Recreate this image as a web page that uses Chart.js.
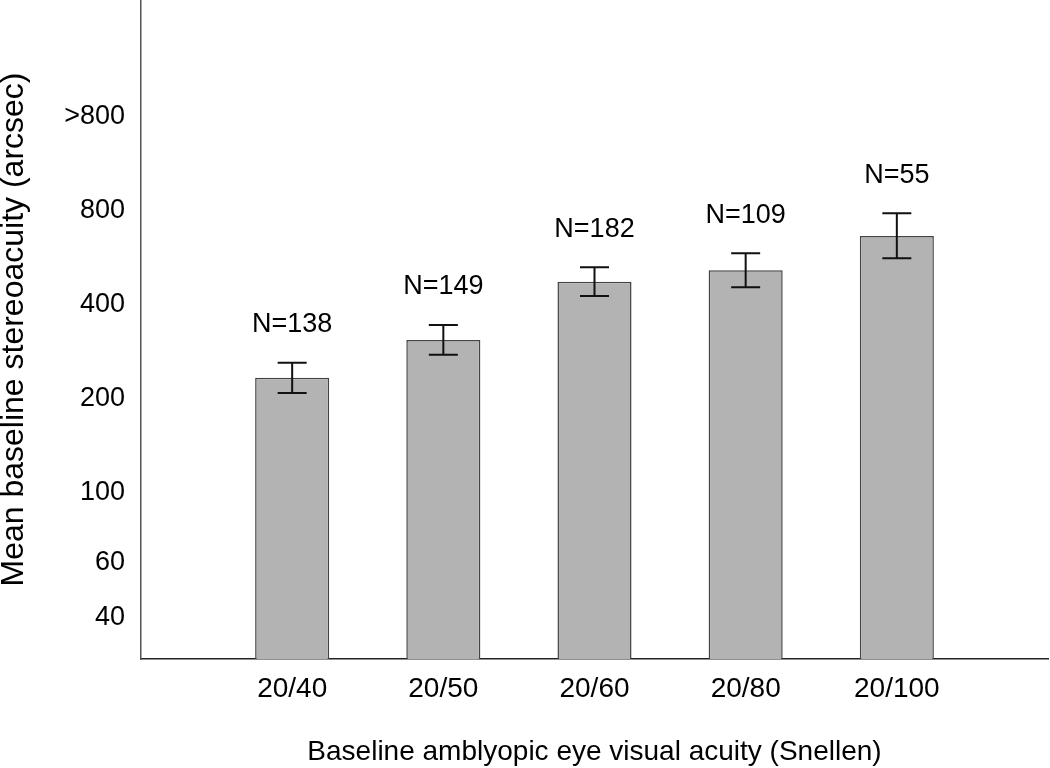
<!DOCTYPE html>
<html>
<head>
<meta charset="utf-8">
<script src="https://cdn.jsdelivr.net/npm/chart.js@4/dist/chart.umd.min.js"></script>
<style>
  body { margin: 0; background: #fff; }
  #wrap { width: 1050px; height: 768px; }
</style>
</head>
<body>
<div id="wrap"><canvas id="stereoChart" width="1050" height="768"></canvas></div>
<script>
const acuity = ["20/40", "20/50", "20/60", "20/80", "20/100"];
const meanArcsec = [234, 309, 475, 517, 665];
const errLow = [209, 277, 427, 456, 564];
const errHigh = [261, 345, 528, 586, 787];
const nCounts = [138, 149, 182, 109, 55];
const yTickValues = [40, 60, 100, 200, 400, 800, 1600];

const FONT = "'Liberation Sans', Arial, Helvetica, sans-serif";

// empty slots either side so the bars sit away from the axes
const labels = ["", ...acuity, ""];
const barValues = [null, ...meanArcsec, null];

const errorBars = {
  id: "errorBars",
  afterDatasetsDraw(chart) {
    const ctx = chart.ctx;
    const yScale = chart.scales.y;
    const meta = chart.getDatasetMeta(0);
    ctx.save();
    ctx.strokeStyle = "#111";
    ctx.lineWidth = 2;
    ctx.fillStyle = "#000";
    ctx.font = "27px " + FONT;
    ctx.textAlign = "center";
    ctx.textBaseline = "middle";
    acuity.forEach((a, i) => {
      const bar = meta.data[i + 1];
      const x = bar.x;
      const yHi = yScale.getPixelForValue(errHigh[i]);
      const yLo = yScale.getPixelForValue(errLow[i]);
      const cap = 14.5;
      ctx.beginPath();
      ctx.moveTo(x, yHi);
      ctx.lineTo(x, yLo);
      ctx.moveTo(x - cap, yHi);
      ctx.lineTo(x + cap, yHi);
      ctx.moveTo(x - cap, yLo);
      ctx.lineTo(x + cap, yLo);
      ctx.stroke();
      ctx.fillText("N=" + nCounts[i], x, yHi - 38);
    });
    ctx.restore();
  },
};

const whiteBg = {
  id: "whiteBg",
  beforeDraw(chart) {
    const ctx = chart.ctx;
    ctx.save();
    ctx.fillStyle = "#fff";
    ctx.fillRect(0, 0, chart.width, chart.height);
    ctx.restore();
  },
};

new Chart(document.getElementById("stereoChart"), {
  type: "bar",
  data: {
    labels: labels,
    datasets: [
      {
        data: barValues,
        backgroundColor: "#b3b3b3",
        borderColor: "#444",
        borderWidth: 1.5,
        barPercentage: 0.49,
        categoryPercentage: 1,
      },
    ],
  },
  options: {
    responsive: false,
    animation: false,
    layout: { padding: { top: 0, right: 2, bottom: 0, left: 0 } },
    plugins: {
      legend: { display: false },
      tooltip: { enabled: false },
    },
    scales: {
      x: {
        offset: false,
        grid: { display: false, drawTicks: false },
        border: { display: true, color: "#222", width: 1.5 },
        ticks: {
          color: "#000",
          font: { family: FONT, size: 28 },
          padding: 13,
          maxRotation: 0,
          autoSkip: false,
        },
        title: {
          display: true,
          text: "Baseline amblyopic eye visual acuity (Snellen)",
          color: "#000",
          font: { family: FONT, size: 28, lineHeight: 1 },
          padding: { top: 0, bottom: 2 },
        },
        afterFit(scale) {
          scale.height = 109;
          scale.paddingLeft = 0;
          scale.paddingRight = 0;
        },
      },
      y: {
        type: "logarithmic",
        min: 29.4,
        max: 3790,
        grid: { display: false, drawTicks: false },
        border: { display: true, color: "#555", width: 1.5 },
        afterBuildTicks(scale) {
          scale.ticks = yTickValues.map((v) => ({ value: v }));
        },
        ticks: {
          color: "#000",
          font: { family: FONT, size: 27 },
          padding: 16,
          callback: (v) => (v === 1600 ? ">800" : String(v)),
        },
        title: {
          display: true,
          text: "Mean baseline stereoacuity (arcsec)",
          color: "#000",
          font: { family: FONT, size: 32, lineHeight: 1 },
          padding: { top: -2, bottom: 0 },
        },
        afterFit(scale) {
          scale.width = 141;
          scale.paddingTop = 0;
          scale.paddingBottom = 0;
        },
      },
    },
  },
  plugins: [whiteBg, errorBars],
});
</script>
</body>
</html>
